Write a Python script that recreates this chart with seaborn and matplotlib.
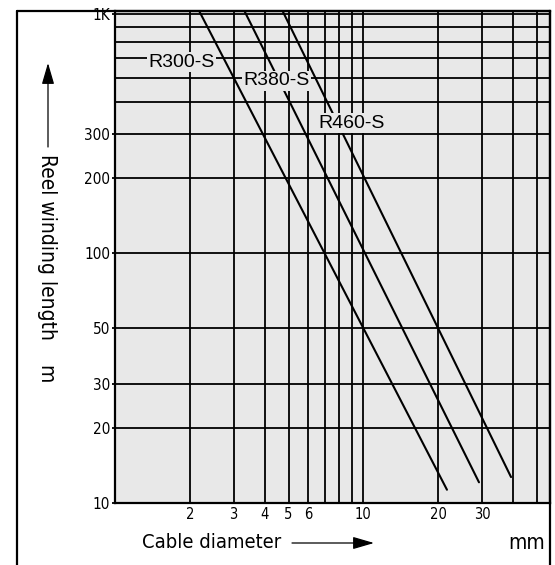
import numpy as np
import pandas as pd
import matplotlib
matplotlib.use("Agg")
import matplotlib.pyplot as plt
from matplotlib.lines import Line2D
from matplotlib.ticker import FixedLocator, FixedFormatter, NullFormatter
import seaborn as sns

# ---------------------------------------------------------
# Daten: Endpunkte der Kennlinien (Kabeldurchmesser mm, Wickellänge m)
# ---------------------------------------------------------
reels = ["R300-S", "R380-S", "R460-S"]
diam_start = [2.1, 3.2, 4.56]
diam_end = [21.7, 29.2, 39.3]
len_start = [1000, 1000, 1000]
len_end = [11.3, 12.1, 12.7]

x_ticks = [2, 3, 4, 5, 6, 10, 20, 30]
x_ticklabels = ["2", "3", "4", "5", "6", "10", "20", "30"]
x_minor = [7, 8, 9, 40, 50]
y_ticks = [10, 20, 30, 50, 100, 200, 300, 900]
y_ticklabels = ["10", "20", "30", "50", "100", "200", "300", "1K"]
y_minor = [400, 500, 600, 700, 800]

# Beschriftungen der Kennlinien (Durchmesser, Länge)
label_x = [1.86, 4.47, 8.95]
label_y = [580, 488, 331]

bg = "#e8e8e8"

df = pd.DataFrame({
    "reel": np.repeat(reels, 2),
    "diameter": np.column_stack([diam_start, diam_end]).ravel(),
    "length": np.column_stack([len_start, len_end]).ravel(),
})

sns.set_theme(style="white")
plt.rcParams["font.family"] = ["DejaVu Sans"]
plt.rcParams["font.stretch"] = "condensed"

W, H = 555, 565
fig = plt.figure(figsize=(W / 100, H / 100), dpi=100)
ax = fig.add_axes([115 / W, 1 - 503 / H, 435 / W, 492 / H])
ax.set_facecolor(bg)

sns.lineplot(data=df, x="diameter", y="length", hue="reel",
             palette=["black"] * 3, estimator=None, sort=False,
             lw=1.5, legend=False, ax=ax, zorder=3)

ax.set_xscale("log")
ax.set_yscale("log")
ax.set_xlim(1, 56.4)
ax.set_ylim(10, 929)

ax.xaxis.set_major_locator(FixedLocator(x_ticks))
ax.xaxis.set_major_formatter(FixedFormatter(x_ticklabels))
ax.xaxis.set_minor_locator(FixedLocator(x_minor))
ax.xaxis.set_minor_formatter(NullFormatter())
ax.yaxis.set_major_locator(FixedLocator(y_ticks))
ax.yaxis.set_major_formatter(FixedFormatter(y_ticklabels))
ax.yaxis.set_minor_locator(FixedLocator(y_minor))
ax.yaxis.set_minor_formatter(NullFormatter())

ax.grid(which="both", color="black", lw=1.3)
ax.set_axisbelow(True)
ax.tick_params(axis="y", which="major", length=2, width=1.3, color="black",
               pad=1.5, labelsize=11, labelcolor="black", left=True)
ax.tick_params(axis="y", which="minor", length=0)
ax.tick_params(axis="x", which="both", length=0, pad=3, labelsize=10.5,
               labelcolor="black")
for s in ax.spines.values():
    s.set_color("black")
    s.set_linewidth(1.6)
ax.set_xlabel("")
ax.set_ylabel("")

for name, lx, ly in zip(reels, label_x, label_y):
    ax.text(lx, ly, name, ha="center", va="center", fontsize=14,
            family="Liberation Sans", fontstretch="normal", color="black",
            zorder=5, bbox=dict(facecolor=bg, edgecolor="none", pad=1.0))

# Rahmen um die Grafik
frame = dict(color="black", lw=1.6, transform=fig.transFigure)
fig.add_artist(Line2D([17 / W, 17 / W], [0, 1 - 11 / H], **frame))
fig.add_artist(Line2D([17 / W, 550 / W], [1 - 11 / H, 1 - 11 / H], **frame))
fig.add_artist(Line2D([550 / W, 550 / W], [0, 1 - 11 / H], **frame))

# Achsentitel mit Pfeilen
fig.text(47 / W, 1 - 268 / H, "Reel winding length    m", rotation=-90,
         ha="center", va="center", fontsize=15, color="black")
fig.text(142 / W, 1 - 543 / H, "Cable diameter", ha="left", va="center",
         fontsize=14.5, color="black")
fig.text(545 / W, 1 - 543 / H, "mm", ha="right", va="center",
         fontsize=15, color="black")

arrow = dict(arrowstyle="-|>,head_length=1.3,head_width=0.38",
             color="black", lw=0.9, mutation_scale=10, shrinkA=0, shrinkB=0)
ax.annotate("", xy=(48 / W, 1 - 63 / H), xytext=(48 / W, 1 - 147 / H),
            xycoords="figure fraction", textcoords="figure fraction",
            arrowprops=arrow, annotation_clip=False)
ax.annotate("", xy=(374 / W, 1 - 543 / H), xytext=(292 / W, 1 - 543 / H),
            xycoords="figure fraction", textcoords="figure fraction",
            arrowprops=arrow, annotation_clip=False)

plt.savefig("out.png", dpi=100)
plt.close()
